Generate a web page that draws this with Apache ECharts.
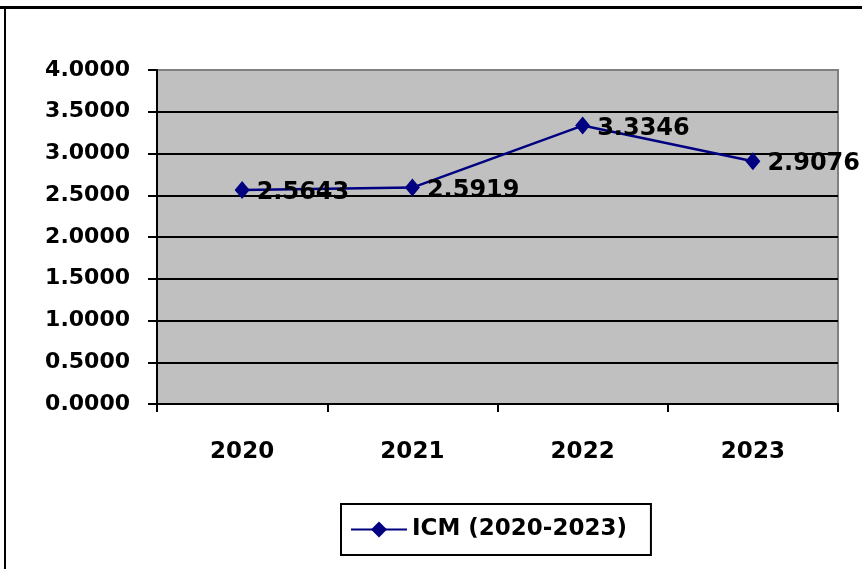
<!DOCTYPE html>
<html>
<head>
<meta charset="utf-8">
<script src="https://cdn.jsdelivr.net/npm/echarts@6/dist/echarts.min.js"></script>
<style>html,body{margin:0;padding:0;background:#fff}#c{width:862px;height:569px}</style>
</head>
<body>
<div id="c"></div>
<script>
const categories = ['2020', '2021', '2022', '2023'];
const icmValues = [2.5643, 2.5919, 3.3346, 2.9076];
const seriesName = 'ICM (2020-2023)';

const chart = echarts.init(document.getElementById('c'), null, {renderer: 'canvas'});
const font = 'DejaVu Sans';
chart.setOption({
  animation: false,
  backgroundColor: '#ffffff',
  graphic: [
    {type: 'rect', shape: {x: 0, y: 6, width: 862, height: 3}, style: {fill: '#000'}},
    {type: 'rect', shape: {x: 4, y: 6, width: 2, height: 563}, style: {fill: '#000'}}
  ],
  grid: {
    left: 157, right: 24, top: 70, bottom: 165,
    show: true, backgroundColor: '#c0c0c0', borderColor: '#808080', borderWidth: 2
  },
  legend: {
    bottom: 14, left: 341,
    itemWidth: 56, itemHeight: 20, itemGap: 8,
    padding: [14, 24, 14, 9],
    borderColor: '#000', borderWidth: 2, borderRadius: 0,
    backgroundColor: '#fff',
    lineStyle: {width: 2},
    textStyle: {fontFamily: font, fontWeight: 'bold', fontSize: 23, color: '#000'},
    data: [seriesName]
  },
  xAxis: {
    type: 'category', data: categories, boundaryGap: true,
    axisLine: {lineStyle: {color: '#000', width: 2}},
    axisTick: {show: true, length: 8, lineStyle: {color: '#000', width: 2}},
    axisLabel: {margin: 37, fontFamily: font, fontWeight: 'bold', fontSize: 23, color: '#000'},
    splitLine: {show: false}
  },
  yAxis: {
    type: 'value', min: 0, max: 4, interval: 0.5,
    axisLine: {show: true, lineStyle: {color: '#000', width: 2}},
    axisTick: {show: true, length: 9, lineStyle: {color: '#000', width: 2}},
    axisLabel: {margin: 27, fontFamily: font, fontWeight: 'bold', fontSize: 22, color: '#000',
      formatter: v => v.toFixed(4)},
    splitLine: {show: true, showMaxLine: false, lineStyle: {color: '#000', width: 2}}
  },
  series: [{
    name: seriesName, type: 'line', data: icmValues,
    symbol: 'diamond', symbolSize: [15, 18],
    lineStyle: {color: '#000080', width: 2.5},
    itemStyle: {color: '#000080'},
    label: {
      show: true, position: 'right', distance: 7, offset: [0, 3],
      fontFamily: font, fontWeight: 'bold', fontSize: 24, color: '#000',
      formatter: p => p.value.toFixed(4)
    }
  }]
});
</script>
</body>
</html>
